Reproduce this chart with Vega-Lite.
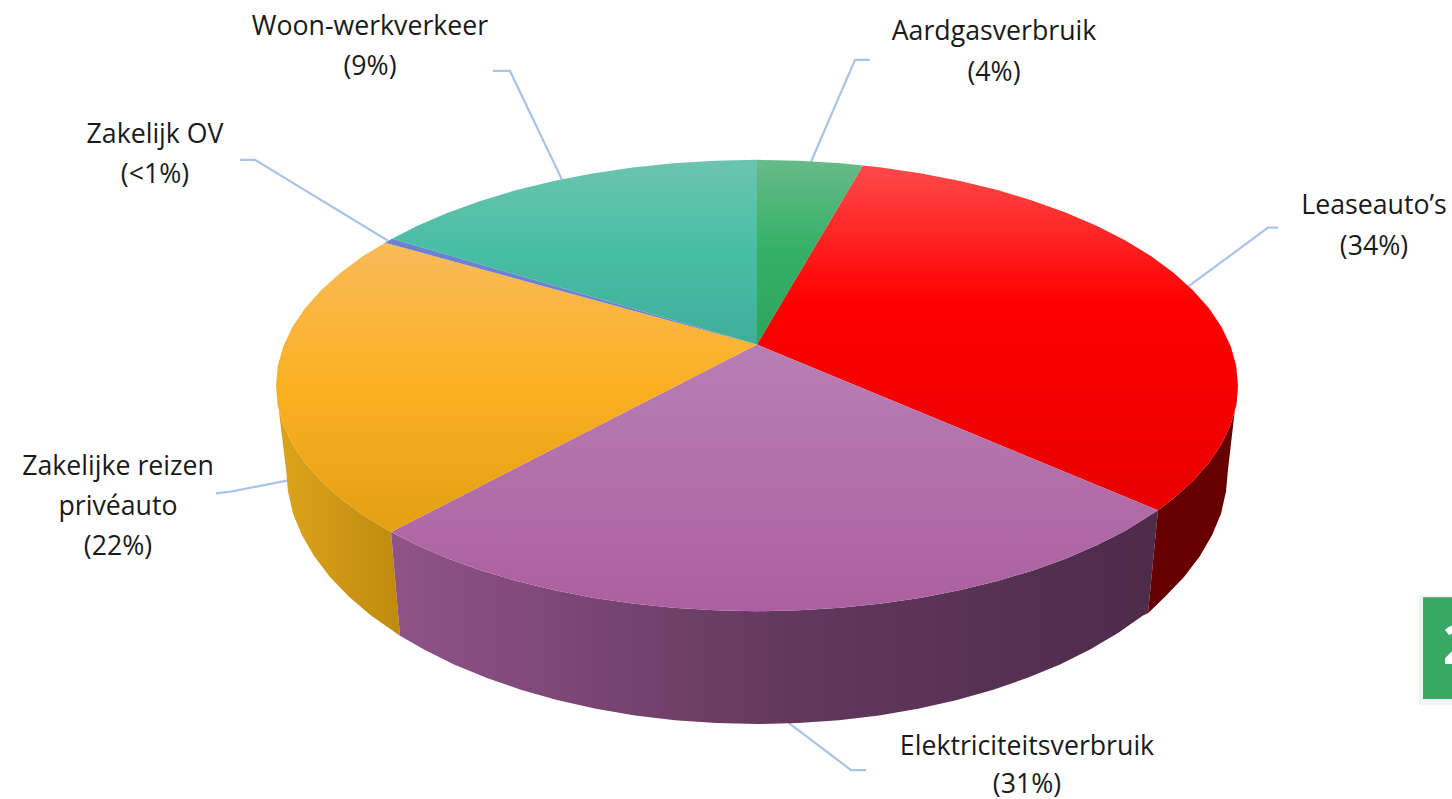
{
"$schema":"https://vega.github.io/schema/vega-lite/v6.json",
"width":1452,"height":799,"padding":0,
"autosize":{"type":"fit","contains":"padding"},
"background":"white",
"config":{"view":{"stroke":null}},
"datasets":{
"wallOrange":[{"x":-481,"y":0},{"x":-479.2,"y":-19.7},{"x":-473.7,"y":-39.2},{"x":-464.6,"y":-58.5},{"x":-452,"y":-77.3},{"x":-435.9,"y":-95.5},{"x":-416.5,"y":-113},{"x":-394,"y":-129.6},{"x":-366,"y":-146.7},{"x":-357,"y":-250.5},{"x":-361,"y":-247.9},{"x":-386,"y":-230.3},{"x":-408,"y":-211.5},{"x":-427,"y":-191.8},{"x":-442.6,"y":-171.2},{"x":-455,"y":-150},{"x":-464,"y":-128.3},{"x":-469,"y":-106.2},{"x":-471,"y":-84},{"x":-480,"y":-10}],
"wallPurple":[{"x":-366,"y":-146.7},{"x":-340.1,"y":-159.8},{"x":-309.2,"y":-173.1},{"x":-275.9,"y":-185.1},{"x":-240.5,"y":-195.7},{"x":-203.3,"y":-204.8},{"x":-164.5,"y":-212.4},{"x":-124.5,"y":-218.3},{"x":-84,"y":-222.6},{"x":-42,"y":-225.1},{"x":0,"y":-226},{"x":42,"y":-225.1},{"x":84,"y":-222.6},{"x":124.5,"y":-218.3},{"x":164.5,"y":-212.4},{"x":203.3,"y":-204.8},{"x":240.5,"y":-195.7},{"x":275.9,"y":-185.1},{"x":309.2,"y":-173.1},{"x":340.1,"y":-159.8},{"x":368.4,"y":-145.3},{"x":401,"y":-125},{"x":391,"y":-228},{"x":386,"y":-230.3},{"x":361,"y":-247.9},{"x":333,"y":-264.3},{"x":303,"y":-279.3},{"x":270,"y":-292.9},{"x":235.5,"y":-304.8},{"x":199,"y":-315.1},{"x":161,"y":-323.6},{"x":122,"y":-330.3},{"x":82,"y":-335.1},{"x":41,"y":-338},{"x":0,"y":-339},{"x":-41,"y":-338},{"x":-82,"y":-335.1},{"x":-122,"y":-330.3},{"x":-161,"y":-323.6},{"x":-199,"y":-315.1},{"x":-235.5,"y":-304.8},{"x":-270,"y":-292.9},{"x":-303,"y":-279.3},{"x":-333,"y":-264.3},{"x":-357,"y":-250.5}],
"wallRed":[{"x":401,"y":-125},{"x":416.5,"y":-113},{"x":435.9,"y":-95.5},{"x":452,"y":-77.3},{"x":464.6,"y":-58.5},{"x":473.7,"y":-39.2},{"x":479.2,"y":-19.7},{"x":481,"y":0},{"x":480,"y":-6},{"x":471,"y":-84},{"x":469,"y":-106.2},{"x":464,"y":-128.3},{"x":455,"y":-150},{"x":442.6,"y":-171.2},{"x":427,"y":-191.8},{"x":408,"y":-211.5},{"x":391,"y":-228}],
"green":[{"x":0,"y":41},{"x":0,"y":226},{"x":42,"y":225.1},{"x":84,"y":222.6},{"x":106,"y":220.4}],
"red":[{"x":0,"y":41},{"x":106,"y":220.4},{"x":124.5,"y":218.3},{"x":164.5,"y":212.4},{"x":203.3,"y":204.8},{"x":240.5,"y":195.7},{"x":275.9,"y":185.1},{"x":309.2,"y":173.1},{"x":340.1,"y":159.8},{"x":368.4,"y":145.3},{"x":394,"y":129.6},{"x":416.5,"y":113},{"x":435.9,"y":95.5},{"x":452,"y":77.3},{"x":464.6,"y":58.5},{"x":473.7,"y":39.2},{"x":479.2,"y":19.7},{"x":481,"y":0},{"x":479.2,"y":-19.7},{"x":473.7,"y":-39.2},{"x":464.6,"y":-58.5},{"x":452,"y":-77.3},{"x":435.9,"y":-95.5},{"x":416.5,"y":-113},{"x":401,"y":-125}],
"purple":[{"x":0,"y":41},{"x":401,"y":-125},{"x":368.4,"y":-145.3},{"x":340.1,"y":-159.8},{"x":309.2,"y":-173.1},{"x":275.9,"y":-185.1},{"x":240.5,"y":-195.7},{"x":203.3,"y":-204.8},{"x":164.5,"y":-212.4},{"x":124.5,"y":-218.3},{"x":84,"y":-222.6},{"x":42,"y":-225.1},{"x":0,"y":-226},{"x":-42,"y":-225.1},{"x":-84,"y":-222.6},{"x":-124.5,"y":-218.3},{"x":-164.5,"y":-212.4},{"x":-203.3,"y":-204.8},{"x":-240.5,"y":-195.7},{"x":-275.9,"y":-185.1},{"x":-309.2,"y":-173.1},{"x":-340.1,"y":-159.8},{"x":-366,"y":-146.7}],
"orange":[{"x":0,"y":41},{"x":-366,"y":-146.7},{"x":-394,"y":-129.6},{"x":-416.5,"y":-113},{"x":-435.9,"y":-95.5},{"x":-452,"y":-77.3},{"x":-464.6,"y":-58.5},{"x":-473.7,"y":-39.2},{"x":-479.2,"y":-19.7},{"x":-481,"y":0},{"x":-479.2,"y":19.7},{"x":-473.7,"y":39.2},{"x":-464.6,"y":58.5},{"x":-452,"y":77.3},{"x":-435.9,"y":95.5},{"x":-416.5,"y":113},{"x":-394,"y":129.6},{"x":-372,"y":143}],
"blue":[{"x":0,"y":41},{"x":-372,"y":143},{"x":-365,"y":147}],
"teal":[{"x":0,"y":41},{"x":-365,"y":147},{"x":-340.1,"y":159.8},{"x":-309.2,"y":173.1},{"x":-275.9,"y":185.1},{"x":-240.5,"y":195.7},{"x":-203.3,"y":204.8},{"x":-164.5,"y":212.4},{"x":-124.5,"y":218.3},{"x":-84,"y":222.6},{"x":-42,"y":225.1},{"x":0,"y":226}],
"leaders":[{"k":"a","x":54,"y":224},{"k":"a","x":98,"y":326},{"k":"a","x":113,"y":326},{"k":"w","x":-195,"y":206},{"k":"w","x":-247,"y":315},{"k":"w","x":-264,"y":315},{"k":"o","x":-369,"y":145},{"k":"o","x":-502,"y":226},{"k":"o","x":-517,"y":226},{"k":"l","x":431,"y":99},{"k":"l","x":511,"y":158},{"k":"l","x":521,"y":158},{"k":"r","x":-469,"y":-95},{"k":"r","x":-525,"y":-106},{"k":"r","x":-541,"y":-108},{"k":"e","x":32,"y":-338},{"k":"e","x":94,"y":-385},{"k":"e","x":109,"y":-385}],
"labels":[{"t":"Woon-werkverkeer","x":-387,"y":361},{"t":"(9%)","x":-387,"y":321},{"t":"Aardgasverbruik","x":237,"y":356},{"t":"(4%)","x":237,"y":315},{"t":"Zakelijk OV","x":-602,"y":253},{"t":"(<1%)","x":-602,"y":213},{"t":"Leaseauto’s","x":617,"y":182},{"t":"(34%)","x":617,"y":141},{"t":"Zakelijke reizen","x":-639,"y":-80},{"t":"privéauto","x":-639,"y":-120},{"t":"(22%)","x":-639,"y":-160},{"t":"Elektriciteitsverbruik","x":270,"y":-360},{"t":"(31%)","x":270,"y":-398}],
"badge":[{"x":666,"x2":695,"y":-212,"y2":-314}],
"badgeShadow":[{"x":662,"x2":695,"y":-210,"y2":-320}],
"badgeText":[{"t":"2","x":686,"y":-263}]
},
"encoding":{
"x":{"field":"x","type":"quantitative","scale":{"domain":[-757,695],"nice":false,"zero":false},"axis":null},
"y":{"field":"y","type":"quantitative","scale":{"domain":[-413,386],"nice":false,"zero":false},"axis":null}
},
"layer":[
{"data":{"name":"leaders"},"mark":{"type":"line","stroke":"#a9c4e6","strokeWidth":2.2},"encoding":{"detail":{"field":"k"},"order":{"value":null}}},
{"data":{"name":"wallOrange"},"mark":{"type":"line","stroke":null,"fill":{"gradient":"linear","x1":0,"y1":0,"x2":1,"y2":0,"stops":[{"offset":0,"color":"#dda41c"},{"offset":1,"color":"#bf8a0e"}]}},"encoding":{"order":{"value":null}}},
{"data":{"name":"wallPurple"},"mark":{"type":"line","stroke":null,"fill":{"gradient":"linear","x1":0,"y1":0,"x2":1,"y2":0,"stops":[{"offset":0,"color":"#905388"},{"offset":0.5,"color":"#643960"},{"offset":1,"color":"#4d2b49"}]}},"encoding":{"order":{"value":null}}},
{"data":{"name":"wallRed"},"mark":{"type":"line","stroke":null,"fill":"#660000"},"encoding":{"order":{"value":null}}},
{"data":{"name":"green"},"mark":{"type":"line","stroke":null,"fill":{"gradient":"linear","x1":0,"y1":0,"x2":0,"y2":1,"stops":[{"offset":0,"color":"#66bb88"},{"offset":0.5,"color":"#33b066"},{"offset":1,"color":"#2ea55c"}]}},"encoding":{"order":{"value":null}}},
{"data":{"name":"red"},"mark":{"type":"line","stroke":null,"fill":{"gradient":"linear","x1":0,"y1":0,"x2":0,"y2":1,"stops":[{"offset":0,"color":"#ff4a4a"},{"offset":0.4,"color":"#ff0000"},{"offset":1,"color":"#e80000"}]}},"encoding":{"order":{"value":null}}},
{"data":{"name":"purple"},"mark":{"type":"line","stroke":null,"fill":{"gradient":"linear","x1":0,"y1":0,"x2":0,"y2":1,"stops":[{"offset":0,"color":"#b87fb4"},{"offset":1,"color":"#ac5fa0"}]}},"encoding":{"order":{"value":null}}},
{"data":{"name":"orange"},"mark":{"type":"line","stroke":null,"fill":{"gradient":"linear","x1":0,"y1":0,"x2":0,"y2":1,"stops":[{"offset":0,"color":"#f9bb5a"},{"offset":0.5,"color":"#fbb022"},{"offset":1,"color":"#e3a012"}]}},"encoding":{"order":{"value":null}}},
{"data":{"name":"teal"},"mark":{"type":"line","stroke":null,"fill":{"gradient":"linear","x1":0,"y1":0,"x2":0,"y2":1,"stops":[{"offset":0,"color":"#6cc4b0"},{"offset":0.5,"color":"#47bea4"},{"offset":1,"color":"#40ae9a"}]}},"encoding":{"order":{"value":null}}},
{"data":{"name":"blue"},"mark":{"type":"line","stroke":null,"fill":"#6b83cf"},"encoding":{"order":{"value":null}}},
{"data":{"name":"labels"},"mark":{"type":"text","font":"Open Sans","fontSize":26.7,"dy":2,"color":"#1a1a1a","align":"center","baseline":"middle"},"encoding":{"text":{"field":"t"}}},
{"data":{"name":"badgeShadow"},"mark":{"type":"rect","color":"#888888","opacity":0.1},"encoding":{"x2":{"field":"x2"},"y2":{"field":"y2"}}},
{"data":{"name":"badge"},"mark":{"type":"rect","color":"#3aa865"},"encoding":{"x2":{"field":"x2"},"y2":{"field":"y2"}}},
{"data":{"name":"badgeText"},"mark":{"type":"text","font":"Open Sans","fontWeight":"bold","fontSize":53,"color":"white","align":"left","baseline":"middle","clip":true},"encoding":{"text":{"field":"t"}}}
]
}
